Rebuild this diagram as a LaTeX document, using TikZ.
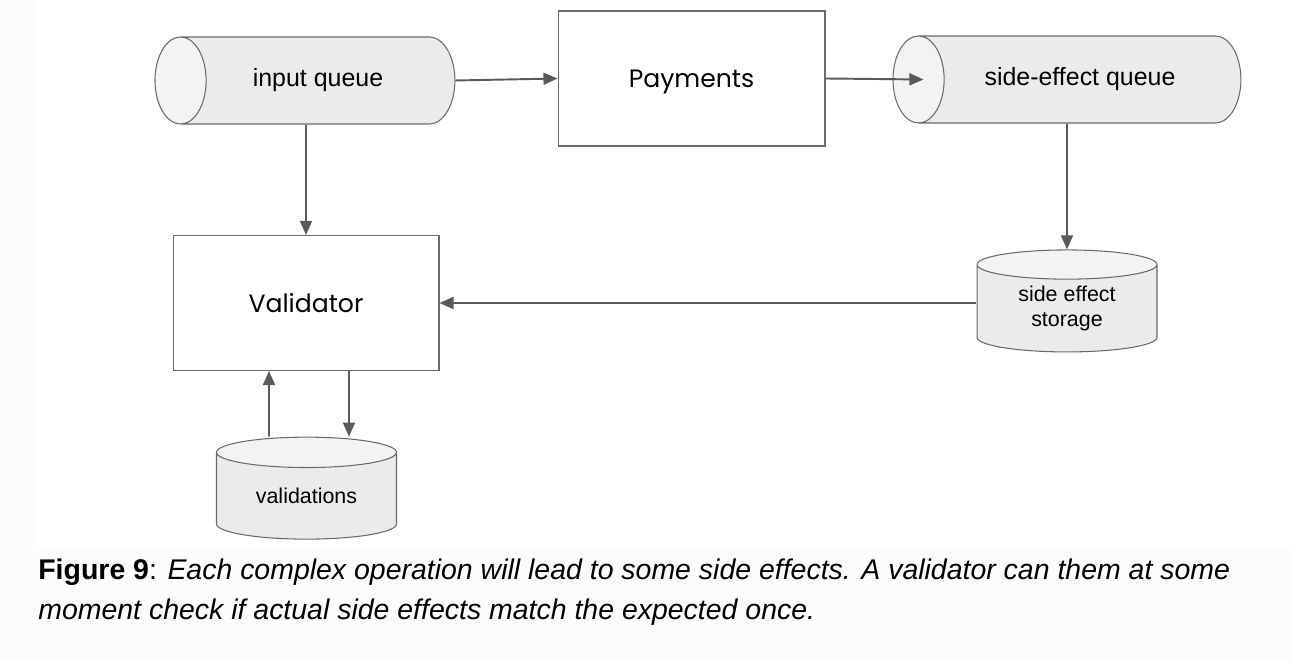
\documentclass[tikz,border=0pt]{standalone}
\usepackage{fontspec}
\setmainfont{Liberation Sans}
\newfontfamily\boxfont{Poppins}
\usetikzlibrary{arrows.meta}
\usetikzlibrary{shapes.geometric}
\definecolor{edgegray}{HTML}{6A6A6A}
\definecolor{arrowgray}{HTML}{5A5A5A}
\definecolor{bodygray}{HTML}{EBEBEB}
\definecolor{facegray}{HTML}{F3F3F3}
\definecolor{pagegray}{HTML}{FCFCFC}

\begin{document}
\begin{tikzpicture}[x=0.02cm, y=-0.02cm,
  queue/.style={cylinder, shape border rotate=180, draw=edgegray, line width=0.6pt, cylinder uses custom fill, cylinder body fill=bodygray, cylinder end fill=facegray, minimum width=1.74cm, minimum height=6cm, aspect=2.2, inner sep=0pt, font=\fontsize{14.2}{17}\selectfont},
  store/.style={cylinder, shape border rotate=90, draw=edgegray, line width=0.6pt, cylinder uses custom fill, cylinder body fill=bodygray, cylinder end fill=facegray, minimum width=3.6cm, minimum height=2.04cm, aspect=0.3, inner sep=0pt, align=center, font=\fontsize{12.2}{14.6}\selectfont},
  proc/.style={draw=edgegray, line width=0.6pt, fill=white, minimum width=5.34cm, minimum height=2.7cm, font=\boxfont\fontsize{14.3}{17}\selectfont},
  flow/.style={draw=arrowgray, line width=1.1pt, -{Triangle[length=8pt, width=6.8pt]}}]

% page
\fill[pagegray] (0,0) rectangle (1292,661);
\fill[white] (38,0) rectangle (1292,548);

\node[queue] (iq) at (318,80.5) {input queue};
\node[queue, minimum height=6.96cm] (sq) at (1080,79.5) {side-effect queue};
\node[proc, minimum width=5.34cm, text depth=0pt] (pay) at (691.5,78.5) {Payments};
\node[proc, minimum width=5.32cm] (val) at (306,303) {Validator};
\node[store] (st) at (1067,308.5) {side effect\\storage};
\node[store] (vs) at (306.5,496) {validations};

\draw[flow] (iq.east) -- (pay.west);
\draw[flow] (pay.east) -- ([xshift=0.62cm]sq.west);
\draw[flow] (sq.south -| st.north) -- (st.north);
\draw[flow] (st.west |- val.east) -- (val.east);
\draw[flow] (iq.south -| val.north) -- (val.north);
\draw[flow] ([xshift=-0.75cm]vs.north) -- ([xshift=-0.74cm]val.south);
\draw[flow] ([xshift=0.86cm]val.south) -- ([xshift=0.85cm]vs.north);

\node[anchor=north west, align=left, inner sep=0pt, font=\fontsize{16.2}{22.7}\selectfont] (cap) at (38,559)
  {\textbf{Figure 9}: \textit{Each complex operation will lead to some side effects. A validator can them at some}\\
   \textit{moment check if actual side effects match the expected once.}};
\end{tikzpicture}
\end{document}
